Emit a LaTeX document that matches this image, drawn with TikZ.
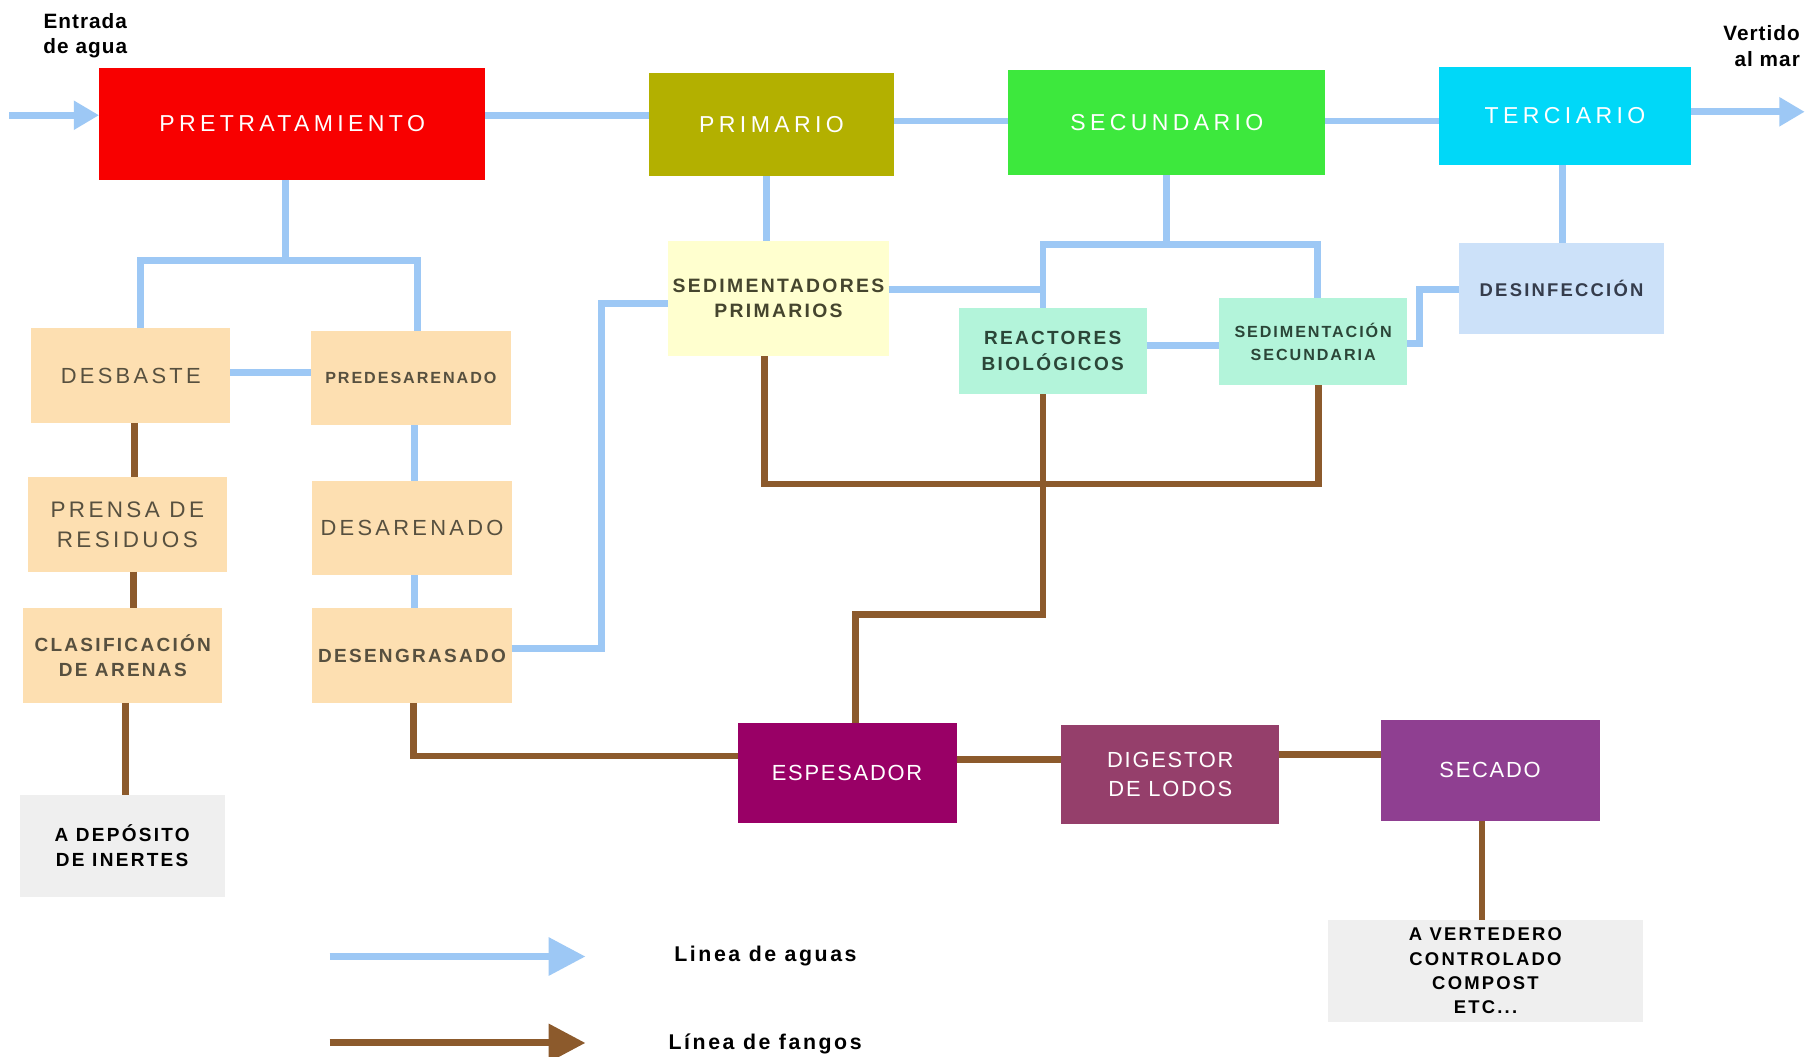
\documentclass[tikz,border=0pt]{standalone}
\usepackage{fontspec}
\setmainfont{Liberation Sans}
\newfontfamily\lsfont[LetterSpace=15]{Liberation Sans}
\newfontfamily\lswfont[LetterSpace=19]{Liberation Sans}
\newfontfamily\lsnfont[LetterSpace=8]{Liberation Sans}
\newfontfamily\lsbfont[LetterSpace=12,BoldFont={Liberation Sans Bold}]{Liberation Sans}
\newfontfamily\lsbtfont[LetterSpace=5,BoldFont={Liberation Sans Bold}]{Liberation Sans}
\usetikzlibrary{arrows.meta}
\definecolor{wblue}{HTML}{9DC8F5}
\definecolor{sbrown}{HTML}{8C5A2C}
\definecolor{cred}{HTML}{F80000}
\definecolor{colive}{HTML}{B3B000}
\definecolor{cgreen}{HTML}{3DE83D}
\definecolor{ccyan}{HTML}{00D8F8}
\definecolor{cyellow}{HTML}{FFFFCF}
\definecolor{cmint}{HTML}{B3F4DA}
\definecolor{clblue}{HTML}{CCE1F9}
\definecolor{cpeach}{HTML}{FDDFB1}
\definecolor{cgrey}{HTML}{EFEFEF}
\definecolor{cesp}{HTML}{990066}
\definecolor{cdig}{HTML}{953F6B}
\definecolor{csec}{HTML}{8F3F91}
\definecolor{tpeach}{HTML}{57503F}
\definecolor{tyel}{HTML}{45452E}
\definecolor{tmint}{HTML}{2B4638}
\definecolor{tblue}{HTML}{353C4C}
\tikzset{
  box/.style={inner sep=0pt, outer sep=0pt, align=center, draw=none},
  wline/.style={draw=wblue, line width=6pt},
  sline/.style={draw=sbrown, line width=6pt},
  whitetxt/.style={text=white, font=\lswfont\fontsize{20}{25}\selectfont},
  whitelow/.style={text=white, font=\lsnfont\fontsize{19}{25}\selectfont},
  peachreg/.style={box, fill=cpeach, text=tpeach, minimum width=173, minimum height=82, font=\lsfont\fontsize{19}{26}\selectfont},
  peachbold/.style={box, fill=cpeach, text=tpeach, minimum width=173, minimum height=82, font=\lsbfont\bfseries\fontsize{16.5}{21}\selectfont},
  sidetxt/.style={inner sep=0pt, font=\lsbtfont\bfseries\fontsize{18}{22}\selectfont, align=center},
  legtxt/.style={inner sep=0pt, anchor=west, font=\lsbfont\bfseries\fontsize{18.5}{22}\selectfont},
}
\begin{document}
\begin{tikzpicture}[x=1pt,y=-1pt]
\fill[white] (0,0) rectangle (1568,917);
\useasboundingbox (0,0) rectangle (1568,917);

% main line
\node[box, whitetxt, fill=cred, minimum width=335, minimum height=97] (pre) at (253.5,107.5) {PRETRATAMIENTO};
\node[box, whitetxt, fill=colive, minimum width=213, minimum height=90] (pri) at (669.5,108) {PRIMARIO};
\node[box, whitetxt, fill=cgreen, minimum width=275, minimum height=91] (sec) at (1012.5,106.5) {SECUNDARIO};
\node[box, whitetxt, fill=ccyan, minimum width=218, minimum height=85] (ter) at (1358,100.5) {TERCIARIO};

\node[sidetxt] (ent) at (74,31) {Entrada\\de agua};
\node[sidetxt, align=right, anchor=east] (ver1) at (1562,40) {Vertido\\al mar};

% secondary boxes
\node[box, fill=cyellow, text=tyel, minimum width=191, minimum height=100, font=\lsbfont\bfseries\fontsize{16.8}{22}\selectfont] (sedp) at (675.5,259) {SEDIMENTADORES\\PRIMARIOS};
\node[box, fill=cmint, text=tmint, minimum width=163, minimum height=75, font=\lsbfont\bfseries\fontsize{16.5}{22}\selectfont] (reac) at (913.5,304.5) {REACTORES\\BIOLÓGICOS};
\node[box, fill=cmint, text=tmint, minimum width=163, minimum height=75, font=\lsbfont\bfseries\fontsize{14}{20}\selectfont] (seds) at (1139.5,296.5) {SEDIMENTACIÓN\\SECUNDARIA};
\node[box, fill=clblue, text=tblue, minimum width=178, minimum height=79, font=\lsbfont\bfseries\fontsize{16}{22}\selectfont] (des) at (1355,250.5) {DESINFECCIÓN};

% pretreatment boxes
\node[peachreg] (desb) at (113.5,326) {DESBASTE};
\node[peachbold, font=\lsbfont\bfseries\fontsize{14}{20}\selectfont] (pred) at (356.5,328) {PREDESARENADO};
\node[peachreg, font=\lsfont\fontsize{19.5}{26}\selectfont] (pren) at (110.5,455) {PRENSA DE\\RESIDUOS};
\node[peachreg] (dsar) at (357.5,458) {DESARENADO};
\node[peachbold] (clas) at (106.5,569) {CLASIFICACIÓN\\DE ARENAS};
\node[peachbold] (deng) at (357.5,569) {DESENGRASADO};
\node[box, fill=cgrey, text=black, minimum width=178, minimum height=88, font=\lsbfont\bfseries\fontsize{16.5}{22}\selectfont] (dep) at (106,734) {A DEPÓSITO\\DE INERTES};

% sludge boxes
\node[box, whitelow, fill=cesp, minimum width=190, minimum height=87] (esp) at (735,670.5) {ESPESADOR};
\node[box, whitelow, fill=cdig, minimum width=189, minimum height=86] (dig) at (1015.5,672) {DIGESTOR\\DE LODOS};
\node[box, whitelow, fill=csec, minimum width=190, minimum height=87] (seca) at (1293,668.5) {SECADO};
\node[box, fill=cgrey, text=black, minimum width=274, minimum height=89, font=\lsbfont\bfseries\fontsize{16}{21}\selectfont] (vert) at (1289,842.5) {A VERTEDERO\\CONTROLADO\\COMPOST\\ETC...};

% water connectors
\coordinate (inw) at (8,100);
\coordinate (outw) at (1566,97);
\draw[wline, -{Triangle[length=22pt,width=24pt]}] (inw) -- (pre.west |- inw);
\draw[wline] (pre.east |- 0,100) -- (pri.west |- 0,100);
\draw[wline] (pri.east |- 0,105) -- (sec.west |- 0,105);
\draw[wline] (sec.east |- 0,105) -- (ter.west |- 0,105);
\draw[wline, -{Triangle[length=22pt,width=24pt]}] (ter.east |- outw) -- (outw);
\draw[wline] (pre.south -| 248,0) -- (248,226);
\draw[wline] (desb.north -| 122,0) -- (122,226) -- (362,226) -- (pred.north -| 362,0);
\draw[wline] (desb.east |- 0,323) -- (pred.west |- 0,323);
\draw[wline] (pred.south -| 360,0) -- (dsar.north -| 360,0);
\draw[wline] (dsar.south -| 360,0) -- (deng.north -| 360,0);
\draw[wline] (deng.east |- 0,563) -- (522,563) -- (522,263) -- (sedp.west |- 0,263);
\draw[wline] (pri.south -| 665,0) -- (sedp.north -| 665,0);
\draw[wline] (sedp.east |- 0,251) -- (905,251);
\draw[wline] (reac.north -| 905,0) -- (905,212) -- (1143,212) -- (seds.north -| 1143,0);
\draw[wline] (sec.south -| 1012,0) -- (1012,212);
\draw[wline] (reac.east |- 0,300) -- (seds.west |- 0,300);
\draw[wline] (seds.east |- 0,298) -- (1232,298) -- (1232,251) -- (des.west |- 0,251);
\draw[wline] (ter.south -| 1356,0) -- (des.north -| 1356,0);

% sludge connectors
\draw[sline] (desb.south -| 117,0) -- (pren.north -| 117,0);
\draw[sline] (pren.south -| 116,0) -- (clas.north -| 116,0);
\draw[sline] (clas.south -| 109,0) -- (dep.north -| 109,0);
\draw[sline] (deng.south -| 359,0) -- (359,656) -- (esp.west |- 0,656);
\draw[sline] (sedp.south -| 663,0) -- (663,420) -- (1144,420) -- (seds.south -| 1144,0);
\draw[sline] (reac.south -| 905,0) -- (905,533) -- (742,533) -- (esp.north -| 742,0);
\draw[sline] (esp.east |- 0,659) -- (dig.west |- 0,659);
\draw[sline] (dig.east |- 0,655) -- (seca.west |- 0,655);
\draw[sline] (seca.south -| 1286,0) -- (vert.north -| 1286,0);

% legend
\coordinate (la1) at (286,830);
\coordinate (la2) at (508,830);
\coordinate (lf1) at (286,905);
\coordinate (lf2) at (508,905);
\draw[wline, -{Triangle[length=32pt,width=32pt]}] (la1) -- (la2);
\draw[sline, -{Triangle[length=32pt,width=32pt]}] (lf1) -- (lf2);
\node[legtxt] (lta) at (585,830) {Linea de aguas};
\node[legtxt] (ltf) at (580,906) {Línea de fangos};
\end{tikzpicture}
\end{document}
